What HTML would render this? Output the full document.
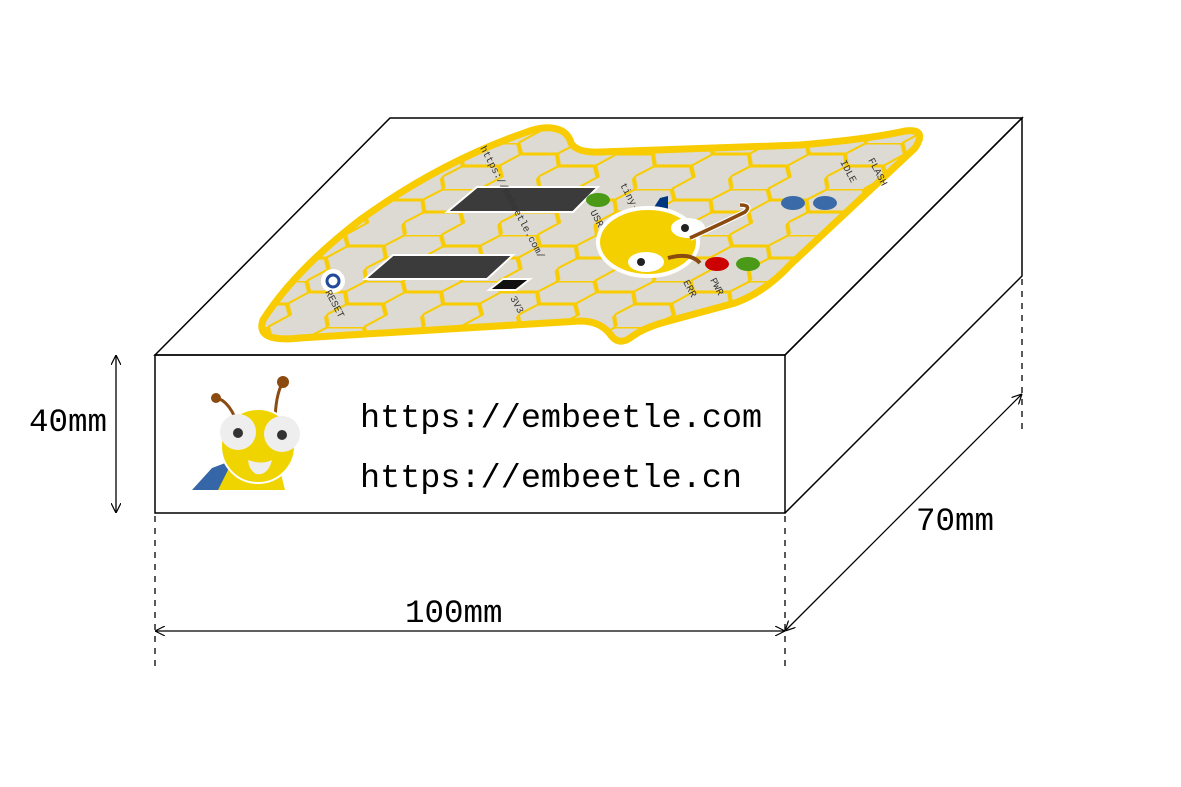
<!DOCTYPE html>
<html><head><meta charset="utf-8"><style>
html,body{margin:0;padding:0;background:#fff;width:1181px;height:787px;overflow:hidden}
text{font-family:"Liberation Mono",monospace}
</style></head><body>
<svg width="1181" height="787" viewBox="0 0 1181 787">
<defs>
<marker id="ar" viewBox="0 0 10 10" refX="10" refY="5" markerWidth="10" markerHeight="10" orient="auto-start-reverse" markerUnits="userSpaceOnUse"><path d="M0,0 L10,5 L0,10" fill="none" stroke="#000" stroke-width="1.2"/></marker>
<pattern id="hex" width="96" height="46" patternUnits="userSpaceOnUse" patternTransform="translate(10,5) skewX(-40)"><path d="M0,11 L12,0 L48,0 L60,11 L48,23 L12,23 Z M60,11 L96,11 M48,23 L60,34 L48,46 M12,23 L0,34 L12,46" fill="none" stroke="#f8cc00" stroke-width="3"/></pattern>
<clipPath id="bc"><path id="boardpath" d="M527,132 Q548,124 562,131 Q569,135 571,143 Q577,153 600,152 L800,145 Q870,139 905,131 Q928,128 915,148 L790,265 Q765,292 735,303 L665,322 Q643,328 630,338 Q618,346 610,334 Q600,321 580,321 L300,338 Q255,343 263,320 Q295,270 360,220 Q440,162 527,132 Z"/></clipPath>
</defs>
<g fill="none" stroke="#000" stroke-width="1.5">
<path d="M155,355 L390,118 L1022,118 L785,355 Z"/>
<rect x="155" y="355" width="630" height="158"/>
<path d="M785,355 L1022,118 L1022,276 L785,513"/>
</g>
<g>
<use href="#boardpath" fill="#dcdad2"/>
<rect x="250" y="120" width="700" height="240" fill="url(#hex)" clip-path="url(#bc)"/>
<use href="#boardpath" fill="none" stroke="#f8cc00" stroke-width="7"/>
<polygon points="477,187 598,187 573,212 447,212" fill="#3b3b3b" stroke="#fff" stroke-width="2"/>
<polygon points="393,255 513,255 487,279 365,279" fill="#3b3b3b" stroke="#fff" stroke-width="2"/>
<polygon points="503,279 530,279 516,290 489,290" fill="#111" stroke="#fff" stroke-width="2"/>
<circle cx="333" cy="281" r="12" fill="#fff"/>
<circle cx="333" cy="281" r="6" fill="none" stroke="#234a9a" stroke-width="3"/>
<g font-size="10" fill="#333">
<text transform="translate(868,160) rotate(62)">FLASH</text>
<text transform="translate(840,162) rotate(62)">IDLE</text>
<text transform="translate(710,280) rotate(62)">PWR</text>
<text transform="translate(683,282) rotate(62)">ERR</text>
<text transform="translate(590,212) rotate(62)">USR</text>
<text transform="translate(620,185) rotate(62)">tiny-scarab-v0.3</text>
<text transform="translate(325,292) rotate(62)">RESET</text>
<text transform="translate(480,148) rotate(62)">https://embeetle.com/</text>
<text transform="translate(510,298) rotate(62)">3V3</text>
</g>
</g>
<g>
<path d="M647,218 L660,198 L668,196 L668,222 Z" fill="#003680"/>
<ellipse cx="648" cy="242" rx="50" ry="34" fill="#f5d000" stroke="#fff" stroke-width="4"/>
<ellipse cx="688" cy="228" rx="17" ry="10" fill="#fff"/><circle cx="685" cy="228" r="4" fill="#222"/>
<ellipse cx="646" cy="262" rx="18" ry="10" fill="#fff"/><circle cx="641" cy="262" r="4" fill="#222"/>
<path d="M690,238 Q725,222 745,212 Q752,205 740,205" fill="none" stroke="#fff" stroke-width="6"/>
<path d="M690,238 Q725,222 745,212 Q752,205 740,205" fill="none" stroke="#8a4a10" stroke-width="3.5"/>
<path d="M668,258 Q690,252 700,263" fill="none" stroke="#8a4a10" stroke-width="4"/>
</g>
<g>
<ellipse cx="598" cy="200" rx="12" ry="7" fill="#4a9a18"/>
<ellipse cx="793" cy="203" rx="12" ry="7" fill="#3a6aa8"/>
<ellipse cx="825" cy="203" rx="12" ry="7" fill="#3a6aa8"/>
<ellipse cx="717" cy="264" rx="12" ry="7" fill="#cc0000"/>
<ellipse cx="748" cy="264" rx="12" ry="7" fill="#4a9a18"/>
</g>
<g>
<path d="M192,490 L212,468 L228,462 L240,490 Z" fill="#3566a8"/>
<path d="M218,490 L232,462 L280,470 L285,490 Z" fill="#f0d400"/>
<path d="M240,430 Q230,400 216,398" fill="none" stroke="#8a4a10" stroke-width="3"/>
<circle cx="216" cy="398" r="5" fill="#8a4a10"/>
<path d="M275,425 Q275,395 283,382" fill="none" stroke="#8a4a10" stroke-width="3"/>
<circle cx="283" cy="382" r="6" fill="#8a4a10"/>
<circle cx="258" cy="446" r="37" fill="#f0d400" stroke="#fff" stroke-width="2"/>
<circle cx="238" cy="432" r="18" fill="#eee"/><circle cx="238" cy="433" r="5" fill="#333"/>
<circle cx="282" cy="434" r="18" fill="#eee"/><circle cx="282" cy="435" r="5" fill="#333"/>
<path d="M248,460 Q262,465 272,460 Q268,476 256,474 Q249,470 248,460 Z" fill="#eee"/>
</g>
<text x="360" y="427" font-size="33.5">https://embeetle.com</text>
<text x="360" y="487" font-size="33.5">https://embeetle.cn</text>
<g stroke="#000" stroke-width="1.3" fill="none">
<line x1="116" y1="355" x2="116" y2="513" marker-start="url(#ar)" marker-end="url(#ar)"/>
<line x1="155" y1="516" x2="155" y2="670" stroke-dasharray="6,6"/>
<line x1="785" y1="516" x2="785" y2="670" stroke-dasharray="6,6"/>
<line x1="1022" y1="279" x2="1022" y2="435" stroke-dasharray="6,6"/>
<line x1="155" y1="631" x2="785" y2="631" marker-start="url(#ar)" marker-end="url(#ar)"/>
<line x1="785" y1="631" x2="1022" y2="394" marker-start="url(#ar)" marker-end="url(#ar)"/>
</g>
<text x="29" y="431" font-size="32.5">40mm</text>
<text x="405" y="622" font-size="32.5">100mm</text>
<text x="916" y="530" font-size="32.5">70mm</text>
</svg>
</body></html>
